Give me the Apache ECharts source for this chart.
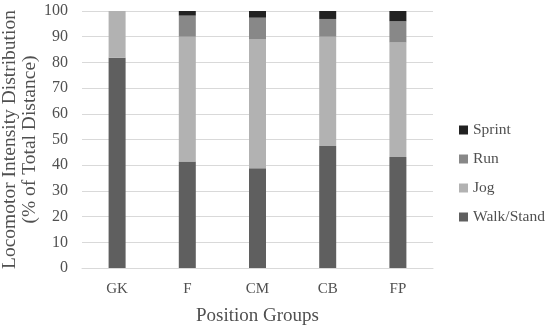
<!DOCTYPE html>
<html><head><meta charset="utf-8">
<script src="https://cdn.jsdelivr.net/npm/echarts@6/dist/echarts.min.js"></script>
<style>html,body{margin:0;padding:0;background:#fff}#c{width:550px;height:328px}</style>
</head><body><div id="c"></div>
<script>
const categories = ['GK', 'F', 'CM', 'CB', 'FP'];
const walkStand = [81.8, 41.4, 38.8, 47.5, 43.2];
const jog = [18.2, 48.6, 50.3, 42.5, 44.6];
const run = [0, 8.2, 8.3, 6.9, 8.2];
const sprint = [0, 1.8, 2.6, 3.1, 4.0];
const yTicks = [0, 10, 20, 30, 40, 50, 60, 70, 80, 90, 100];

const font = 'Liberation Serif, serif';
const txt = '#505050';
const chart = echarts.init(document.getElementById('c'));
function s(name, data, color) {
  return { name, type: 'bar', stack: 't', data, barWidth: 17, itemStyle: { color }, emphasis: { disabled: true } };
}
chart.setOption({
  animation: false,
  textStyle: { fontFamily: font },
  grid: { left: 82, right: 117, top: 11, bottom: 60, containLabel: false, outerBoundsMode: 'none' },
  legend: {
    orient: 'vertical', left: 454, top: 117, itemGap: 13, itemWidth: 9, itemHeight: 9,
    icon: 'rect',
    data: ['Sprint', 'Run', 'Jog', 'Walk/Stand'],
    textStyle: { fontFamily: font, fontSize: 15.5, color: txt }
  },
  xAxis: {
    type: 'category', data: categories,
    name: 'Position Groups', nameLocation: 'middle', nameGap: 39, nameMoveOverlap: false,
    nameTextStyle: { fontFamily: font, fontSize: 19, color: txt },
    axisLine: { lineStyle: { color: '#d9d9d9' } }, axisTick: { show: false },
    axisLabel: { fontFamily: font, fontSize: 15, color: txt, margin: 14 }
  },
  yAxis: {
    type: 'value', min: 0, max: yTicks[yTicks.length - 1], interval: 10,
    name: 'Locomotor Intensity Distribution\n(% of Total Distance)', nameLocation: 'middle', nameGap: 42, nameMoveOverlap: false,
    nameTextStyle: { fontFamily: font, fontSize: 19.5, color: txt, lineHeight: 20 },
    axisLine: { show: false }, axisTick: { show: false },
    axisLabel: { fontFamily: font, fontSize: 16, color: txt, margin: 14 },
    splitLine: { lineStyle: { color: '#d9d9d9' } }
  },
  series: [
    s('Walk/Stand', walkStand, '#5f5f5f'),
    s('Jog', jog, '#b2b2b2'),
    s('Run', run, '#888888'),
    s('Sprint', sprint, '#222222')
  ]
});
</script></body></html>
